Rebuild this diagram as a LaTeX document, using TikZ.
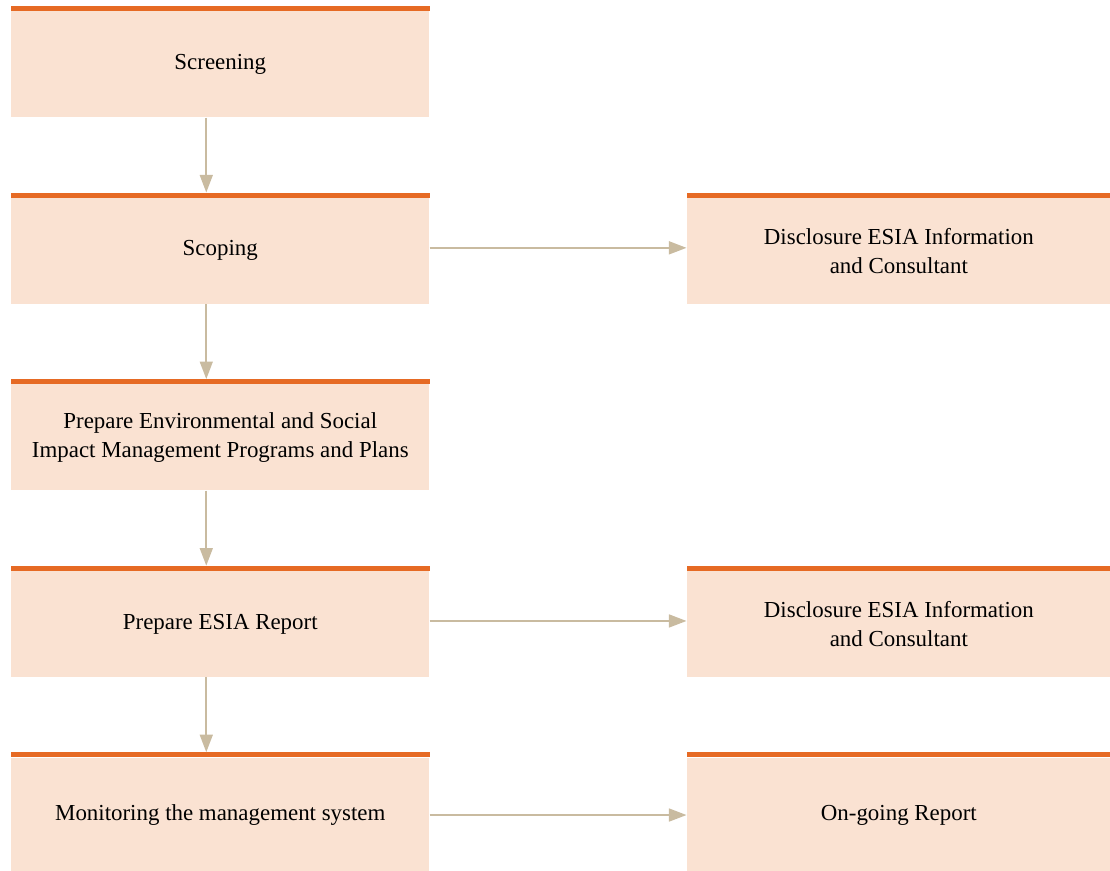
\documentclass[tikz,border=0pt]{standalone}
\usepackage{fontspec}
\setmainfont{Liberation Serif}
\usepackage{tikz}
\usetikzlibrary{positioning,arrows.meta}

\definecolor{barorange}{HTML}{E66A24}
\definecolor{boxfill}{HTML}{FAE2D2}
\definecolor{arrowtan}{HTML}{C9BBA0}

\begin{document}
\begin{tikzpicture}[
    node distance=2cm and 6.425cm,
    every node/.style={font=\fontsize{16.3}{20.6}\selectfont},
    stage/.style={rectangle, fill=boxfill, inner sep=0pt,
                  minimum width=10.45cm, minimum height=2.65cm,
                  align=center},
    outbox/.style={stage, minimum width=10.6cm},
    arr/.style={-{Triangle[length=0.44cm, width=0.32cm]},
                draw=arrowtan, line width=1.5pt},
    down/.style={arr, shorten >=0.125cm}
]
\useasboundingbox (0,0) rectangle (27.75,-21.775);

\node[stage, anchor=north west] at (0.275,-0.275) (scr) {Screening};
\node[stage, below=of scr]   (scp)  {Scoping};
\node[stage, below=of scp]   (plan) {Prepare Environmental and Social\\Impact Management Programs and Plans};
\node[stage, below=of plan]  (rep)  {Prepare ESIA Report};
\node[stage, below=of rep, minimum height=2.875cm] (mon) {Monitoring the management system};
\node[outbox, right=of scp]  (dis1) {Disclosure ESIA Information\\and Consultant};
\node[outbox, right=of rep]  (dis2) {Disclosure ESIA Information\\and Consultant};
\node[outbox, right=of mon, minimum height=2.875cm] (ongo) {On-going Report};

% orange strip on top of each box
\foreach \n in {scr,scp,plan,rep,mon,dis1,dis2,ongo}
  \fill[barorange] (\n.north west) rectangle ([yshift=0.125cm]\n.north east);

\draw[down] ([xshift=-0.35cm]scr.south)  -- ([xshift=-0.35cm]scp.north);
\draw[down] ([xshift=-0.35cm]scp.south)  -- ([xshift=-0.35cm]plan.north);
\draw[down] ([xshift=-0.35cm]plan.south) -- ([xshift=-0.35cm]rep.north);
\draw[down] ([xshift=-0.35cm]rep.south)  -- ([xshift=-0.35cm]mon.north);
\draw[arr] ([yshift=0.075cm]scp.east) -- ([yshift=0.075cm]dis1.west);
\draw[arr] ([yshift=0.075cm]rep.east) -- ([yshift=0.075cm]dis2.west);
\draw[arr] (mon) -- (ongo);
\end{tikzpicture}
\end{document}
